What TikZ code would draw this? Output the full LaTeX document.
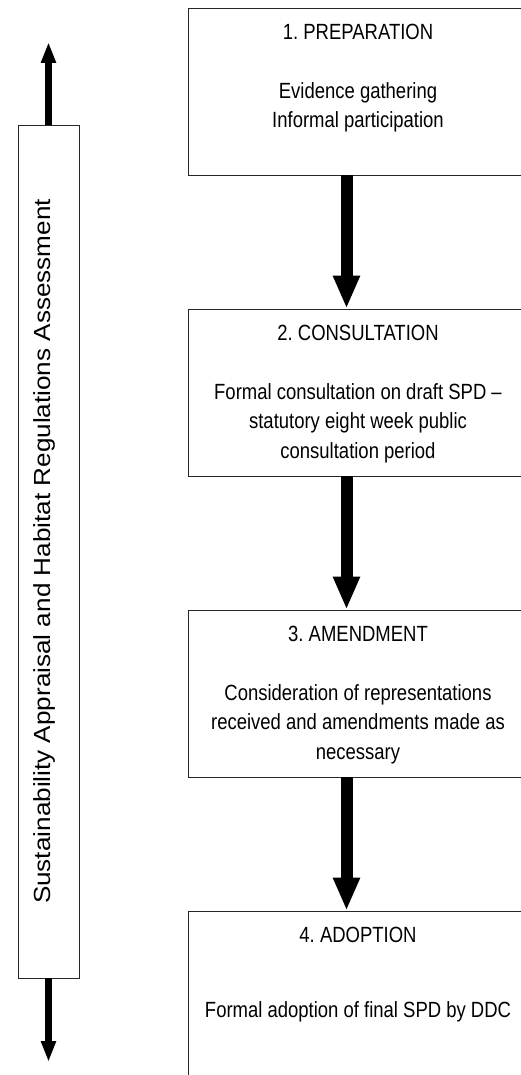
\documentclass[tikz,border=0pt]{standalone}
\usepackage{fontspec}
\usepackage{tikz}
\usetikzlibrary{positioning}
\usetikzlibrary{arrows.meta}
\newfontfamily\boxfont[FakeStretch=0.84]{Liberation Sans}
\newfontfamily\sidefont[FakeStretch=1.12]{Liberation Sans}
\frenchspacing

\begin{document}
\begin{tikzpicture}[x=1pt,y=-1pt,
		stage/.style={draw=black!85,line width=0.8pt,minimum width=340pt,minimum height=167pt,inner sep=0pt},
		stagetext/.style={anchor=north,align=center,inner sep=0pt,font=\boxfont\fontsize{22}{29.5}\selectfont},
		flow/.style={line width=12pt,-{Triangle[width=25pt,length=33pt]}},
		sideflow/.style={line width=7pt,-{Triangle[width=14pt,length=21pt]}}]
				\useasboundingbox (0,0) rectangle (521,1075);
				\clip (0,0) rectangle (521,1075);
				%Nodes
				\node[stage] (prep) 	at 	(358,91.5) {};
				\node[stage] (cons) 	at 	(358,392.5) {};
				\node[stage] (amend) 	at 	(358,693.5) {};
				\node[stage] (adopt) 	at 	(358,994.5) {};
				\node[stagetext] (prepTxt) at (358,23.75) {1. PREPARATION\\[29.5pt]Evidence gathering\\Informal participation};
				\node[stagetext] (consTxt) at (358,324.75) {2. CONSULTATION\\[29.5pt]Formal consultation on draft SPD –\\statutory eight week public\\consultation period};
				\node[stagetext] (amendTxt) at (358,625.75) {3. AMENDMENT\\[29.5pt]Consideration of representations\\received and amendments made as\\necessary};
				\node[stagetext] (adoptTxt) at (358,926.75) {4. ADOPTION\\[46pt]Formal adoption of final SPD by DDC};

				\node[draw=black!85,line width=0.8pt,minimum width=61pt,minimum height=853pt,inner sep=0pt] (sa) at (48.5,551.5) {};
				\node[rotate=90,anchor=base,inner sep=0pt,font=\sidefont\fontsize{23.3}{28}\selectfont] (saTxt) at (50,551.5) {Sustainability Appraisal and Habitat Regulations Assessment};
				\coordinate      (saTop) 	at 	(48.5,42);
				\coordinate      (saBot) 	at 	(48.5,1062);

				%Lines
				\draw[flow] ([xshift=-11.5pt]prep.south) -- ([xshift=-11.5pt]cons.north);
				\draw[flow] ([xshift=-11.5pt]cons.south) -- ([xshift=-11.5pt]amend.north);
				\draw[flow] ([xshift=-11.5pt]amend.south) -- ([xshift=-11.5pt]adopt.north);
				\draw[sideflow] (sa.north) -- (saTop);
				\draw[sideflow] (sa.south) -- (saBot);

		\end{tikzpicture}
\end{document}
